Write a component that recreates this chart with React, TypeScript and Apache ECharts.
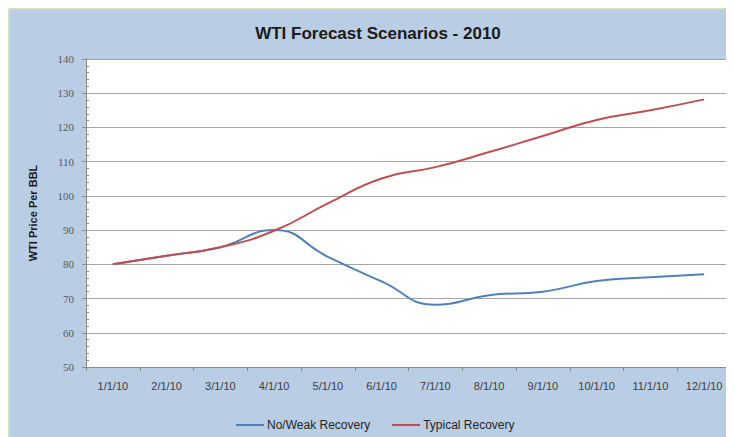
import React, { useEffect, useRef } from "react";
import * as echarts from "echarts";

const categories = ["1/1/10", "2/1/10", "3/1/10", "4/1/10", "5/1/10", "6/1/10", "7/1/10", "8/1/10", "9/1/10", "10/1/10", "11/1/10", "12/1/10"];
const weakRecovery = [80, 82.5, 85, 90, 82.2, 75, 68.2, 71, 72, 75.1, 76.2, 77.1];
const typicalRecovery = [80, 82.5, 85, 89.8, 97.8, 105.1, 108.4, 112.8, 117.5, 122.2, 125, 128.2];
const seriesNames = ["No/Weak Recovery", "Typical Recovery"];
const titleText = "WTI Forecast Scenarios - 2010";
const yAxisName = "WTI Price Per BBL";

export default function App() {
  const ref = useRef<HTMLDivElement>(null);
  useEffect(() => {
    if (!ref.current) return;
    const chart = echarts.init(ref.current, null, { renderer: "svg" });
    const axisGray = "#8c8c8c";
    chart.setOption({
      animation: false,
      backgroundColor: "#b9cde5",
      title: {
        text: titleText,
        left: 365,
        top: 12,
        textAlign: "center",
        textStyle: { fontFamily: "Liberation Sans", fontWeight: "bold", fontSize: 17, color: "#1a1a1a" },
      },
      graphic: [
        { type: "line", shape: { x1: 0, y1: 0.5, x2: 726, y2: 0.5 }, style: { stroke: "#d8e4bc", lineWidth: 1.5 } },
        { type: "line", shape: { x1: 1, y1: 0, x2: 1, y2: 429 }, style: { stroke: "#d8e4bc", lineWidth: 1.5 } },
      ],
      legend: {
        left: 223,
        top: 406,
        itemWidth: 28,
        itemHeight: 2,
        itemGap: 22,
        icon: "rect",
        textStyle: { fontFamily: "Liberation Sans", fontSize: 12, color: "#262626", padding: [0, 0, 0, -2] },
        data: seriesNames,
      },
      grid: {
        left: 78,
        top: 51,
        right: 3,
        bottom: 70,
        show: true,
        backgroundColor: "#ffffff",
        borderWidth: 0,
      },
      xAxis: {
        type: "category",
        data: categories,
        boundaryGap: true,
        axisLine: { lineStyle: { color: axisGray } },
        axisTick: { show: true, length: 4, lineStyle: { color: axisGray } },
        axisLabel: { margin: 13, fontFamily: "Liberation Sans", fontSize: 11, color: "#404040" },
      },
      yAxis: [
        {
          type: "value",
          min: 50,
          max: 140,
          interval: 10,
          name: yAxisName,
          nameLocation: "middle",
          nameGap: 48,
          nameTextStyle: { fontFamily: "Liberation Sans", fontWeight: "bold", fontSize: 11, color: "#1a1a1a" },
          axisLine: { show: true, lineStyle: { color: axisGray } },
          axisTick: { show: true, length: 4, lineStyle: { color: axisGray } },
          axisLabel: { margin: 12, fontFamily: "Liberation Serif", fontSize: 11, color: "#595959" },
          splitLine: { show: true, lineStyle: { color: "#a6a6a6", width: 1 } },
        },
        {
          type: "value",
          min: 50,
          max: 140,
          interval: 10,
          position: "left",
          axisLine: { show: false },
          axisTick: { show: true, inside: true, length: 0, lineStyle: { color: axisGray } },
          axisLabel: { show: false },
          splitLine: { show: false },
          minorTick: { show: true, splitNumber: 5, length: 3, lineStyle: { color: "#8c8c8c", width: 1 } },
        },
      ],
      series: [
        {
          name: seriesNames[0],
          type: "line",
          data: weakRecovery,
          smooth: 0.5,
          symbol: "none",
          lineStyle: { color: "#4f81bd", width: 2 },
          itemStyle: { color: "#4f81bd" },
        },
        {
          name: seriesNames[1],
          type: "line",
          data: typicalRecovery,
          smooth: 0.5,
          symbol: "none",
          lineStyle: { color: "#c0504d", width: 2 },
          itemStyle: { color: "#c0504d" },
        },
      ],
    });
    return () => chart.dispose();
  }, []);
  return <div ref={ref} style={{ width: 726, height: 429 }} />;
}
